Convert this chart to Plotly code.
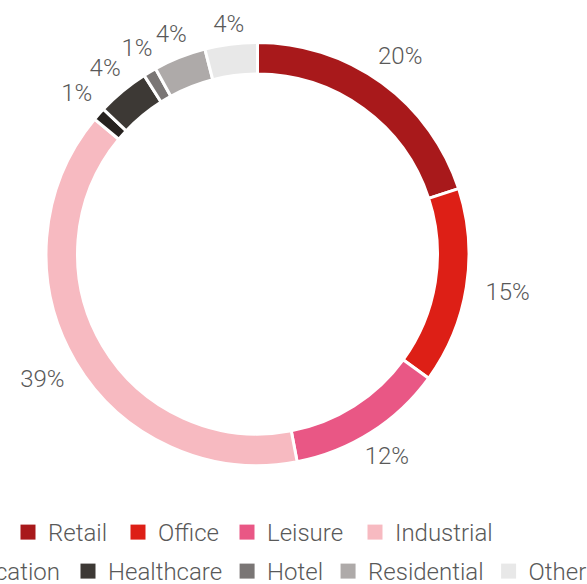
import math
import plotly.graph_objects as go

# ---------------- data ----------------
categories = ["Retail", "Office", "Leisure", "Industrial", "Education",
              "Healthcare", "Hotel", "Residential", "Other"]
shares = [20, 15, 12, 39, 1, 4, 1, 4, 4]
pct_labels = [f"{v}%" for v in shares]

# ---------------- style ----------------
colors = ["#A8191B", "#DD1F16", "#E95785", "#F7BAC1", "#26221F",
          "#3D3935", "#7A7675", "#AEAAA9", "#E8E8E8"]
legend_ids = ["legend", "legend", "legend", "legend", "legend2",
              "legend3", "legend3", "legend3", "legend3"]
legend_widths = [65, 64, 83, None, None, None, None, None, None]

W, H = 587, 584
CX, CY = 257.5, 254.0      # pie centre (px)
R_GEO = 211.5              # outer radius (px)
R_POLAR = 254.0            # radius of the label (polar) frame (px)
HOLE = 0.851
R_VIS = 210.0
LABEL_GAP = 17.4
H_FACTOR = 1.18
FONT = "Roboto"
TEXT_COLOR = "#595959"

pie_x = [(CX - R_GEO) / W, (CX + R_GEO) / W]
pie_y = [1 - (CY + R_GEO) / H, 1 - (CY - R_GEO) / H]
pol_x = [(CX - R_POLAR) / W, (CX + R_POLAR) / W]
pol_y = [max(0, 1 - (CY + R_POLAR) / H), min(1, 1 - (CY - R_POLAR) / H)]

fig = go.Figure()

fig.add_trace(go.Pie(
    labels=categories, values=shares, sort=False, direction="clockwise",
    rotation=0, hole=HOLE, textinfo="none", showlegend=False,
    marker=dict(colors=colors, line=dict(color="white", width=3)),
    domain=dict(x=pie_x, y=pie_y), hoverinfo="label+percent",
))

# percentage labels placed on polar axes concentric with the pie (radius unit = px)
total = sum(shares)
theta_mid, label_r = [], []
cum = 0
for v, s in zip(shares, pct_labels):
    th = 360.0 * (cum + v / 2) / total
    cum += v
    w = 13.4 * sum(c.isdigit() for c in s) + 17.5 * s.count("%")
    a = math.radians(th)
    rpx = R_VIS + LABEL_GAP + H_FACTOR * abs(math.sin(a)) * w / 2
    theta_mid.append(th)
    label_r.append(rpx)

fig.add_trace(go.Scatterpolar(
    r=label_r, theta=theta_mid, mode="text", text=pct_labels,
    textposition="middle center", cliponaxis=False, showlegend=False,
    hoverinfo="skip",
    textfont=dict(family=FONT, size=24, color=TEXT_COLOR, weight=300),
))

# legend entries
for cat, col, lg, lw in zip(categories, colors, legend_ids, legend_widths):
    kw = dict(legendwidth=lw) if lw else {}
    fig.add_trace(go.Scatterpolar(
        r=[None], theta=[None], mode="markers", name=cat, legend=lg,
        marker=dict(symbol="square", size=15, color=col, line=dict(width=0)),
        hoverinfo="skip", **kw,
    ))

legend_font = dict(family=FONT, size=24, color=TEXT_COLOR, weight=300)
fig.update_layout(
    width=W, height=H,
    margin=dict(l=0, r=0, t=0, b=0, autoexpand=False),
    paper_bgcolor="white", plot_bgcolor="white",
    font=dict(family=FONT, color=TEXT_COLOR),
    polar=dict(domain=dict(x=pol_x, y=pol_y), bgcolor="rgba(0,0,0,0)",
               radialaxis=dict(visible=False, range=[0, R_POLAR]),
               angularaxis=dict(visible=False, rotation=90, direction="clockwise")),
    legend=dict(orientation="h", x=8 / W, xanchor="left",
                y=1 - 532.5 / H, yanchor="middle", font=legend_font,
                bgcolor="rgba(0,0,0,0)"),
    legend2=dict(orientation="h", x=-85 / W, xanchor="left",
                 y=1 - 571.5 / H, yanchor="middle", font=legend_font,
                 bgcolor="rgba(0,0,0,0)"),
    legend3=dict(orientation="h", x=68 / W, xanchor="left",
                 y=1 - 571.5 / H, yanchor="middle", font=legend_font,
                 bgcolor="rgba(0,0,0,0)"),
)

fig.write_html("out.html", config={"displayModeBar": False},
               post_script="document.body.style.margin='0';document.body.style.overflow='hidden';")
